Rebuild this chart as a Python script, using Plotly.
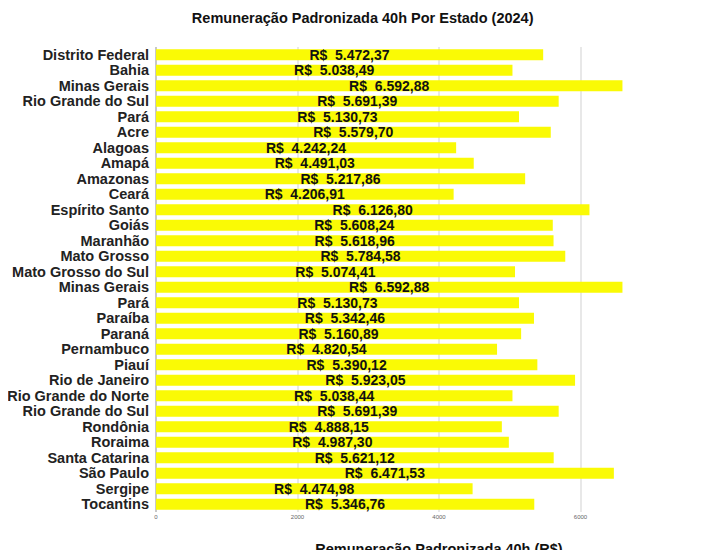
import plotly.graph_objects as go

estados = ["Distrito Federal", "Bahia", "Minas Gerais", "Rio Grande do Sul", "Pará", "Acre",
           "Alagoas", "Amapá", "Amazonas", "Ceará", "Espírito Santo", "Goiás", "Maranhão",
           "Mato Grosso", "Mato Grosso do Sul", "Minas Gerais", "Pará", "Paraíba", "Paraná",
           "Pernambuco", "Piauí", "Rio de Janeiro", "Rio Grande do Norte", "Rio Grande do Sul",
           "Rondônia", "Roraima", "Santa Catarina", "São Paulo", "Sergipe", "Tocantins"]
valores = [5472.37, 5038.49, 6592.88, 5691.39, 5130.73, 5579.70,
           4242.24, 4491.03, 5217.86, 4206.91, 6126.80, 5608.24, 5618.96,
           5784.58, 5074.41, 6592.88, 5130.73, 5342.46, 5160.89,
           4820.54, 5390.12, 5923.05, 5038.44, 5691.39,
           4888.15, 4987.30, 5621.12, 6471.53, 4474.98, 5346.76]
x_ticks = [0, 2000, 4000, 6000, 8000]

FONT = "Liberation Sans, Arial, Helvetica, sans-serif"


def brl(v):
    s = f"{v:,.2f}".replace(",", "X").replace(".", ",").replace("X", ".")
    return "<b>R$\u00a0\u00a0" + s + "</b>"


pos = list(range(len(estados)))
fig = go.Figure(go.Bar(
    x=valores, y=pos, orientation="h",
    marker=dict(color="#FAFA05", line=dict(width=0)),
    text=[brl(v) for v in valores],
    textposition="inside", insidetextanchor="middle",
    textfont=dict(family=FONT, size=14, color="#111111"),
    textangle=0, cliponaxis=False,
))
fig.update_layout(
    width=718, height=550,
    margin=dict(l=148, r=4, t=39, b=46),
    paper_bgcolor="white", plot_bgcolor="white",
    bargap=0.3,
    title=dict(text="<b>Remuneração Padronizada 40h Por Estado (2024)</b>",
               x=0.494, xanchor="center", y=0.982, yanchor="middle",
               font=dict(family=FONT, size=14.5, color="#111111")),
    font=dict(family=FONT, color="#111111"),
    uniformtext=dict(mode="show", minsize=14),
    showlegend=False,
)
fig.update_xaxes(
    range=[0, 8000], tickvals=x_ticks, ticktext=[str(t) for t in x_ticks],
    tickfont=dict(family=FONT, size=6, color="#666666"),
    showgrid=True, gridcolor="#e8e8e8", gridwidth=1.5,
    zeroline=True, zerolinecolor="#c8c8c8", zerolinewidth=1.5,
    title=dict(text="<b>Remuneração Padronizada 40h (R$)</b>", standoff=24,
               font=dict(family=FONT, size=14.5, color="#111111")),
    automargin=False, fixedrange=True,
)
fig.update_yaxes(
    tickvals=pos, ticktext=[f"<b>{e}</b>" for e in estados],
    tickfont=dict(family=FONT, size=14.5, color="#222222"),
    showgrid=False, zeroline=False,
    ticks="", ticklen=0, ticklabelstandoff=6, automargin=False,
    range=[len(estados) - 0.5, -0.5],
)
fig.write_html("out.html")
